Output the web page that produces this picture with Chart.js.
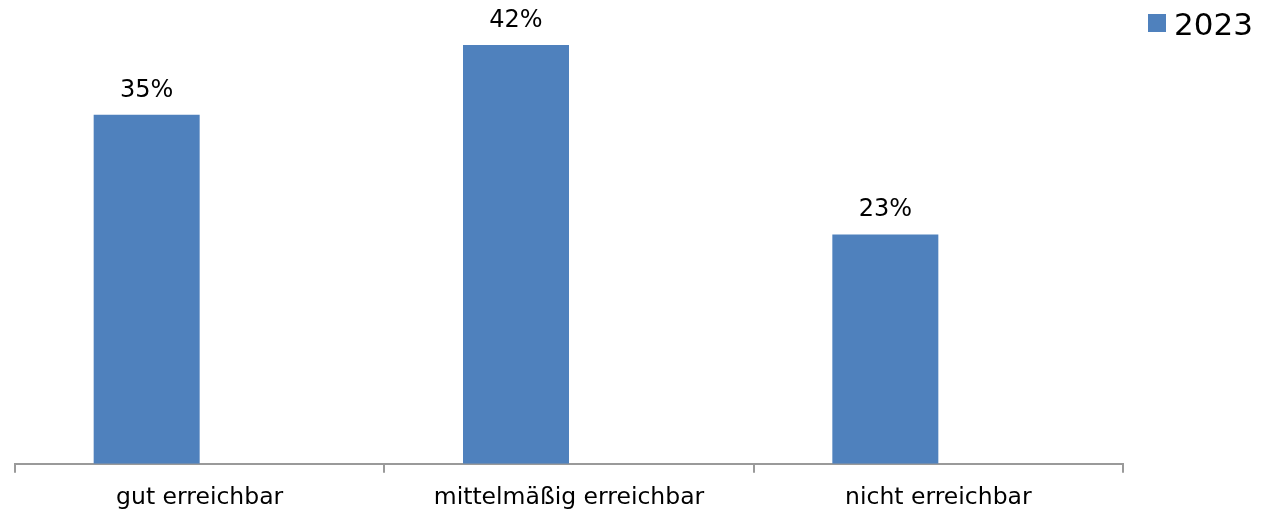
<!DOCTYPE html>
<html>
<head>
<meta charset="utf-8">
<script src="https://cdn.jsdelivr.net/npm/chart.js@4/dist/chart.umd.min.js"></script>
<style>
html,body{margin:0;padding:0;background:#fff;}
#wrap{width:1266px;height:509px;position:relative;}
</style>
</head>
<body>
<div id="wrap"><canvas id="c" width="1266" height="509"></canvas></div>
<script>
const categories = ["gut erreichbar", "mittelmäßig erreichbar", "nicht erreichbar"];
const seriesName = "2023";
const values2023 = [35, 42, 23];
// second (empty) series slot, as in the source chart, which shifts the bars left
const valuesEmpty = [null, null, null];

const FONT = "'DejaVu Sans', Verdana, sans-serif";

const dataLabels = {
  id: 'dataLabels',
  afterDatasetsDraw(chart) {
    const ctx = chart.ctx;
    ctx.save();
    ctx.font = "24px " + FONT;
    ctx.fillStyle = "#000";
    ctx.textAlign = "center";
    ctx.textBaseline = "alphabetic";
    chart.getDatasetMeta(0).data.forEach((bar, i) => {
      ctx.fillText(values2023[i] + "%", bar.x, bar.y - 18);
    });
    ctx.restore();
  }
};

const sideLegend = {
  id: 'sideLegend',
  afterDraw(chart) {
    const ctx = chart.ctx;
    const ds = chart.data.datasets[0];
    ctx.save();
    ctx.fillStyle = ds.backgroundColor;
    ctx.fillRect(1148, 14, 18, 18);
    ctx.fillStyle = "#000";
    ctx.font = "31px " + FONT;
    ctx.textAlign = "left";
    ctx.textBaseline = "alphabetic";
    ctx.fillText(ds.label, 1174, 35);
    ctx.restore();
  }
};

new Chart(document.getElementById('c'), {
  type: 'bar',
  data: {
    labels: categories,
    datasets: [{
      label: seriesName,
      data: values2023,
      backgroundColor: '#4F81BD',
      borderWidth: 0,
      categoryPercentage: 0.574,
      barPercentage: 1
    }, {
      label: '',
      data: valuesEmpty,
      backgroundColor: 'rgba(0,0,0,0)',
      borderWidth: 0,
      categoryPercentage: 0.574,
      barPercentage: 1
    }]
  },
  options: {
    responsive: false,
    animation: false,
    layout: { padding: { left: 15, top: 15, right: 143, bottom: -14 } },
    plugins: {
      legend: { display: false },
      tooltip: { enabled: false }
    },
    scales: {
      x: {
        offset: true,
        grid: {
          offset: true,
          drawOnChartArea: false,
          drawTicks: true,
          tickLength: 9,
          lineWidth: 2,
          color: '#9a9a9a'
        },
        border: { display: true, color: '#9a9a9a', width: 2 },
        ticks: {
          color: '#000',
          font: { family: FONT, size: 23.5 },
          padding: 11,
          maxRotation: 0
        }
      },
      y: {
        display: false,
        min: 0,
        max: 45
      }
    }
  },
  plugins: [dataLabels, sideLegend]
});
</script>
</body>
</html>
